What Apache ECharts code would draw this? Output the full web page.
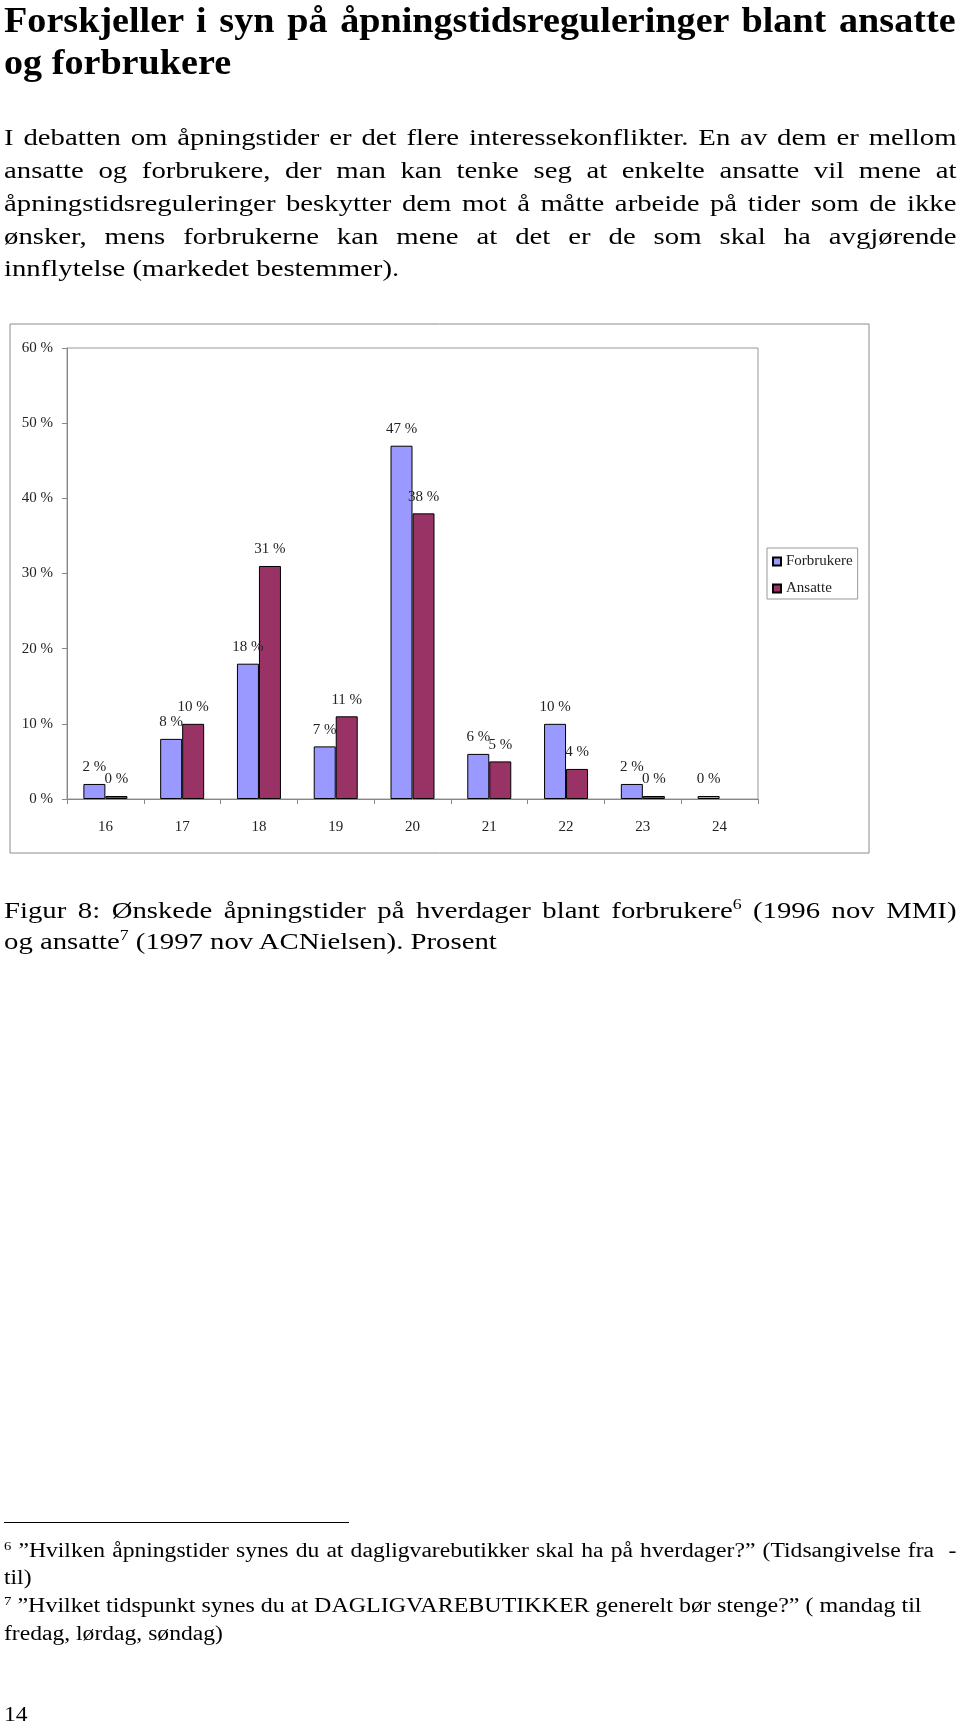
<!DOCTYPE html>
<html><head><meta charset="utf-8">
<script src="https://cdn.jsdelivr.net/npm/echarts@6/dist/echarts.min.js"></script>
<style>
html,body{margin:0;padding:0;background:#fff;}
body{width:960px;height:1726px;position:relative;overflow:hidden;font-family:"Liberation Serif","Times New Roman",serif;color:#000;}
#chart{position:absolute;left:0;top:0;width:960px;height:1726px;}
.ln{position:absolute;left:4px;white-space:nowrap;transform-origin:0 0;}
.j{text-align:justify;text-align-last:justify;white-space:normal;}
.title{font-weight:bold;font-size:35px;line-height:42px;width:873px;transform:scaleX(1.09);}
.body{font-size:23px;line-height:33px;width:762px;transform:scaleX(1.25);}
.cap{font-size:23px;line-height:31px;width:762px;transform:scaleX(1.25);}
.fn{font-size:20px;line-height:28px;width:807px;transform:scaleX(1.18);}
.fn.w{transform:scaleX(1.2);}
sup{font-size:62%;line-height:0;vertical-align:0.6em;}
#rule{position:absolute;left:4px;top:1522px;width:345px;height:0;border-top:1px solid #000;}
</style></head>
<body>
<div id="chart"></div>
<div class="ln title j" style="top:0px">Forskjeller i syn på åpningstidsreguleringer blant ansatte</div>
<div class="ln title" style="top:42px">og forbrukere</div>

<div class="ln body j" style="top:121px">I debatten om åpningstider er det flere interessekonflikter. En av dem er mellom</div>
<div class="ln body j" style="top:154px">ansatte og forbrukere, der man kan tenke seg at enkelte ansatte vil mene at</div>
<div class="ln body j" style="top:187px">åpningstidsreguleringer beskytter dem mot å måtte arbeide på tider som de ikke</div>
<div class="ln body j" style="top:220px">ønsker, mens forbrukerne kan mene at det er de som skal ha avgjørende</div>
<div class="ln body" style="top:252px">innflytelse (markedet bestemmer).</div>

<div class="ln cap j" style="top:895px">Figur 8: Ønskede åpningstider på hverdager blant forbrukere<sup>6</sup> (1996 nov MMI)</div>
<div class="ln cap" style="top:926px">og ansatte<sup>7</sup> (1997 nov ACNielsen). Prosent</div>

<div id="rule"></div>
<div class="ln fn j" style="top:1536px"><sup>6</sup> ”Hvilken åpningstider synes du at dagligvarebutikker skal ha på hverdager?” (Tidsangivelse fra&nbsp; -</div>
<div class="ln fn" style="top:1563px">til)</div>
<div class="ln fn w" style="top:1591px"><sup>7</sup> ”Hvilket tidspunkt synes du at DAGLIGVAREBUTIKKER generelt bør stenge?” ( mandag til</div>
<div class="ln fn" style="top:1619px">fredag, lørdag, søndag)</div>
<div class="ln fn" style="top:1700px">14</div>

<script>
const categories = ['16','17','18','19','20','21','22','23','24'];
const forbrukere = [2, 8, 18, 7, 47, 6, 10, 2, 0.4];
const ansatte = [0.4, 10, 31, 11, 38, 5, 4, 0.4, null];
const seriesNames = ['Forbrukere', 'Ansatte'];
const yMin = 0, yMax = 60, yStep = 10;

const font = '"Liberation Serif","Times New Roman",serif';
const chart = echarts.init(document.getElementById('chart'), null, {renderer:'canvas'});
const labelCfg = {
  show: true, position: 'top', distance: 9,
  fontFamily: font, fontSize: 15, color: '#222',
  formatter: p => (p.value == null ? '' : Math.round(p.value) + ' %')
};
chart.setOption({
  animation: false,
  backgroundColor: 'transparent',
  graphic: [{
    type: 'rect', left: 7.5, top: 321.5,
    shape: {width: 859, height: 529},
    style: {fill: 'none', stroke: '#8c8c8c', lineWidth: 1}
  }],
  grid: {left: 67, top: 348, right: 202, bottom: 927, show: true, borderColor: '#999', borderWidth: 1},
  legend: {
    orient: 'vertical', left: 767, top: 548,
    data: seriesNames,
    backgroundColor: '#fff', borderColor: '#999', borderWidth: 1,
    padding: [6, 5, 3, 5], itemGap: 12, itemWidth: 8, itemHeight: 8,
    icon: 'rect',
    textStyle: {fontFamily: font, fontSize: 15, color: '#222', lineHeight: 15}
  },
  xAxis: {
    type: 'category', data: categories,
    axisLine: {lineStyle: {color: '#888'}},
    axisTick: {show: true, length: 5, lineStyle: {color: '#888'}},
    axisLabel: {fontFamily: font, fontSize: 15, color: '#222', margin: 21}
  },
  yAxis: {
    type: 'value', min: yMin, max: yMax, interval: yStep,
    axisLine: {show: true, lineStyle: {color: '#888'}},
    axisTick: {show: true, length: 5, lineStyle: {color: '#888'}},
    splitLine: {show: false},
    axisLabel: {fontFamily: font, fontSize: 15, color: '#222', margin: 14, formatter: v => v + ' %'}
  },
  series: [
    {name: seriesNames[0], type: 'bar', data: forbrukere, barWidth: 22, barGap: '0%',
     itemStyle: {color: '#9999ff', borderColor: '#000', borderWidth: 1}, label: labelCfg},
    {name: seriesNames[1], type: 'bar', data: ansatte, barWidth: 22,
     itemStyle: {color: '#993366', borderColor: '#000', borderWidth: 1}, label: labelCfg}
  ]
});
</script>
</body></html>
